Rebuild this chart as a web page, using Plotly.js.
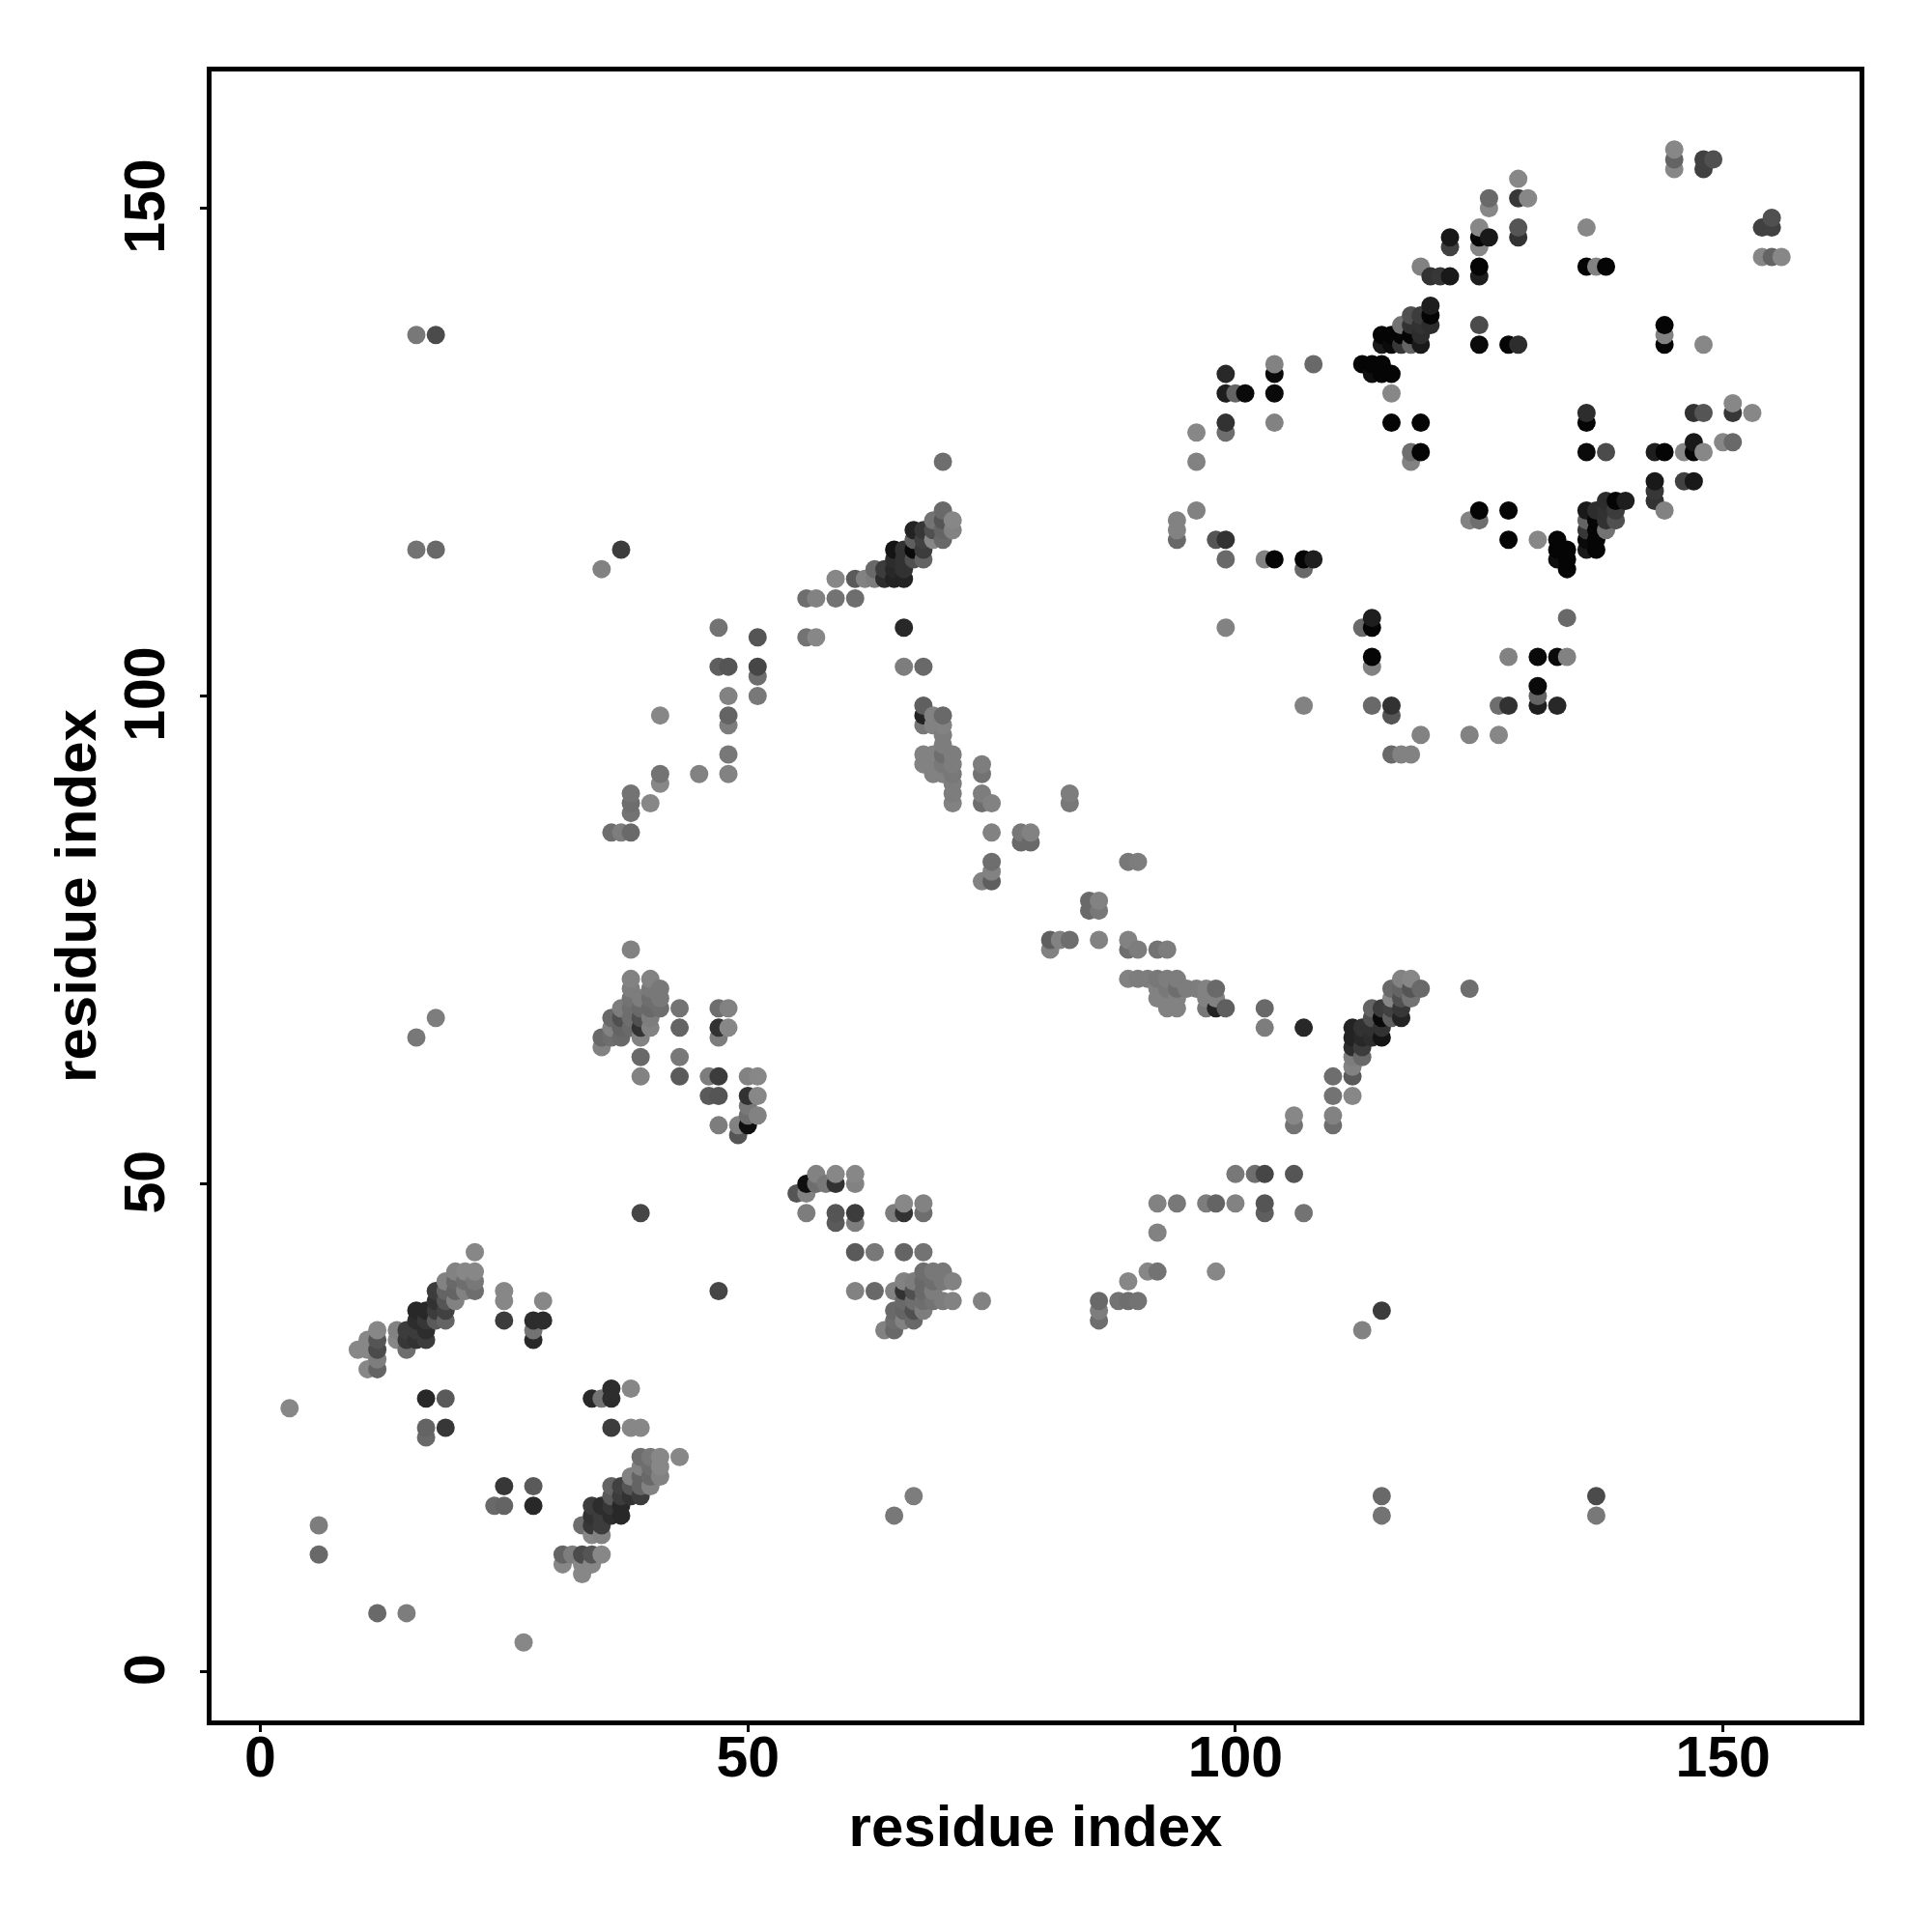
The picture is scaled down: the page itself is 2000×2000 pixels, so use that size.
<!DOCTYPE html>
<html><head><meta charset="utf-8">
<script src="https://cdn.plot.ly/plotly-3.0.1.min.js"></script>
<style>html,body{margin:0;padding:0;background:#fff}</style></head>
<body><div id="chart" style="width:2000px;height:2000px"></div>
<script>
const axisTicks = [0, 50, 100, 150];
const axisLabel = "residue index";
// One row per first residue; each contact is seen at (i,j) and at (j,i).
const residueI = [
3,
6,6,
10,
11,11,11,
12,12,12,12,12,
14,14,
15,15,15,
16,16,16,16,16,16,16,
17,17,17,17,17,17,17,
18,18,18,18,18,18,18,
19,19,19,19,19,19,19,
20,20,20,20,
21,21,21,
22,22,22,22,
25,25,25,
28,28,28,
29,29,
35,35,35,
36,36,36,36,
37,37,37,37,37,37,
38,38,38,38,38,38,38,38,38,38,38,
39,39,39,39,39,39,39,39,
40,40,40,40,40,40,40,
41,41,41,41,41,41,
43,43,43,43,
45,
46,46,
47,47,47,47,47,47,47,47,
48,48,48,48,48,48,48,48,
49,49,
50,50,50,50,50,
51,51,51,51,51,51,51,
56,56,
57,57,
59,59,
61,61,
62,
63,63,
64,64,
65,65,65,65,
66,66,66,66,66,66,
67,67,67,67,
68,68,68,68,68,68,68,68,68,68,
69,69,69,69,69,69,69,69,
70,70,70,70,70,70,70,70,70,70,70,70,
71,71,71,71,71,71,71,71,
74,74,74,74,74,
75,75,75,75,75,
78,78,
79,79,
83,83,
94,94,94,
96,96,96,
98,
99,99,99,99,99,99,99,
100,
101,
103,
104,104,104,104,104,
107,107,
108,108,
113,
114,114,
115,115,115,115,
116,116,116,116,116,
117,117,117,
118,118,118,118,118,118,
119,119,119,119,119,119,119,
120,120,120,120,
121,
122,122,122,
125,125,125,125,125,125,125,
126,126,126,
128,
129,129,129,129,129,
130,
136,136,
137,
138,
145,145,145,
148,148,
149
];
const residueJ = [
27,
12,15,
33,
31,33,34,
31,32,33,34,35,
34,35,
33,34,35,
34,35,36,37,65,115,137,
24,25,28,34,35,36,37,
36,37,38,39,67,115,137,
25,28,36,37,38,39,40,
38,39,40,41,
39,40,41,
39,40,41,43,
36,38,39,
34,35,36,
36,38,
64,65,113,
65,66,67,86,
65,66,67,68,86,115,
66,67,68,69,70,71,74,86,88,89,90,
47,61,63,65,66,67,68,69,
66,67,68,69,70,71,89,
68,69,70,91,92,98,
61,63,66,68,
92,
59,61,
56,59,61,65,66,68,103,107,
66,68,92,94,97,98,100,103,
55,56,
56,57,58,59,61,
57,59,61,100,102,103,106,
106,110,
106,110,
110,112,
110,112,
112,
112,113,
112,113,
112,113,114,115,
103,107,112,113,114,115,
114,115,116,117,
93,94,97,98,99,103,114,115,116,117,
92,93,94,97,98,116,117,118,
92,93,94,95,96,97,98,116,117,118,119,124,
89,90,91,92,93,94,117,118,
81,89,90,92,93,
81,82,83,86,89,
85,86,
85,86,
89,90,
116,117,118,
119,124,127,
116,
107,114,116,127,128,131,133,
131,
131,
114,
114,128,131,133,134,
113,114,
114,134,
134,
133,134,
133,134,136,137,
128,131,133,136,137,
136,137,138,
124,125,136,137,138,139,
125,128,136,137,138,139,144,
138,139,140,143,
143,
143,146,147,
136,138,143,144,146,147,148,
147,150,151,
136,
136,147,148,151,153,
151,
144,148,
144,
144,
154,155,156,
154,155,
155
];
const greyLevel = [
135,
105,125,
135,
135,135,135,
100,125,75,85,135,
135,130,
110,55,60,
50,60,45,40,120,115,120,
105,100,40,60,45,55,40,
90,60,50,60,125,105,75,
55,90,100,65,85,100,130,
130,100,105,130,
130,110,135,
110,120,135,135,
60,135,135,
40,115,45,
45,135,
130,105,130,
110,130,105,110,
105,100,80,125,125,60,
105,110,110,115,125,130,130,105,115,110,115,
70,130,105,130,50,80,105,125,
130,125,105,110,120,130,135,
110,120,120,135,115,135,
90,120,100,115,
130,
90,125,
125,85,60,125,50,110,95,115,
135,130,130,120,125,100,130,85,
85,130,
15,110,120,50,130,
130,135,135,120,110,70,85,
115,110,
135,130,
115,135,
110,90,
130,
125,105,
45,60,
35,40,45,20,
125,40,35,50,50,50,
80,10,95,35,
130,130,120,35,95,105,100,60,65,55,
130,130,130,130,130,135,80,115,
130,120,110,125,125,130,105,105,100,85,105,110,
130,125,125,120,125,125,130,135,
130,110,125,115,125,
95,130,110,130,130,
105,120,
105,130,
120,125,
105,130,130,
130,130,135,
85,
130,105,50,110,50,30,40,
100,
10,
130,
5,130,10,10,130,
105,5,
30,105,
5,
15,5,
5,5,25,5,
5,135,5,10,5,
55,5,115,
130,110,100,5,50,80,
5,5,25,45,50,60,130,
45,5,30,50,
55,
25,65,25,
10,75,30,5,135,5,135,
25,135,105,
5,
45,50,85,55,135,
135,
5,135,
130,
5,
135,100,135,
65,65,
80
];
if (residueI.length !== residueJ.length || residueI.length !== greyLevel.length) {
  console.error('length mismatch', residueI.length, residueJ.length, greyLevel.length);
}
const marks = [];
residueI.forEach((a, k) => {
  marks.push([a, residueJ[k], greyLevel[k]]);
  marks.push([residueJ[k], a, greyLevel[k]]);
});
marks.sort((p, q) => p[0] - q[0] || p[1] - q[1]);

const tickFont = {family: '"Liberation Sans", Arial, sans-serif', size: 59, color: '#000', weight: 700};
const titleFont = Object.assign({}, tickFont, {size: 60});
const baseAxis = {
  tickmode: 'array', tickvals: axisTicks, ticktext: axisTicks.map(String),
  ticks: 'outside', ticklen: 7, tickwidth: 3, tickcolor: '#000',
  showline: true, mirror: true, linewidth: 5, linecolor: '#000',
  showgrid: false, zeroline: false, tickfont: tickFont
};
Plotly.newPlot('chart', [{
  type: 'scatter', mode: 'markers', x: marks.map(m => m[0]), y: marks.map(m => m[1]),
  marker: {size: 19, line: {width: 0}, color: marks.map(m => `rgb(${m[2]},${m[2]},${m[2]})`)},
  hoverinfo: 'x+y'
}], {
  width: 2000, height: 2000, showlegend: false,
  paper_bgcolor: '#fff', plot_bgcolor: '#fff',
  margin: {l: 219, r: 75, t: 74, b: 219, pad: 0},
  xaxis: Object.assign({}, baseAxis, {range: [-5, 164], tickangle: 0, ticklabelstandoff: -25,
    title: {text: axisLabel, font: titleFont, standoff: 20}}),
  yaxis: Object.assign({}, baseAxis, {range: [-5, 164], tickangle: -90, ticklabelshift: 7, ticklabelstandoff: 13,
    title: {text: axisLabel, font: titleFont, standoff: 0}})
}, {displayModeBar: false, responsive: false});
</script></body></html>
